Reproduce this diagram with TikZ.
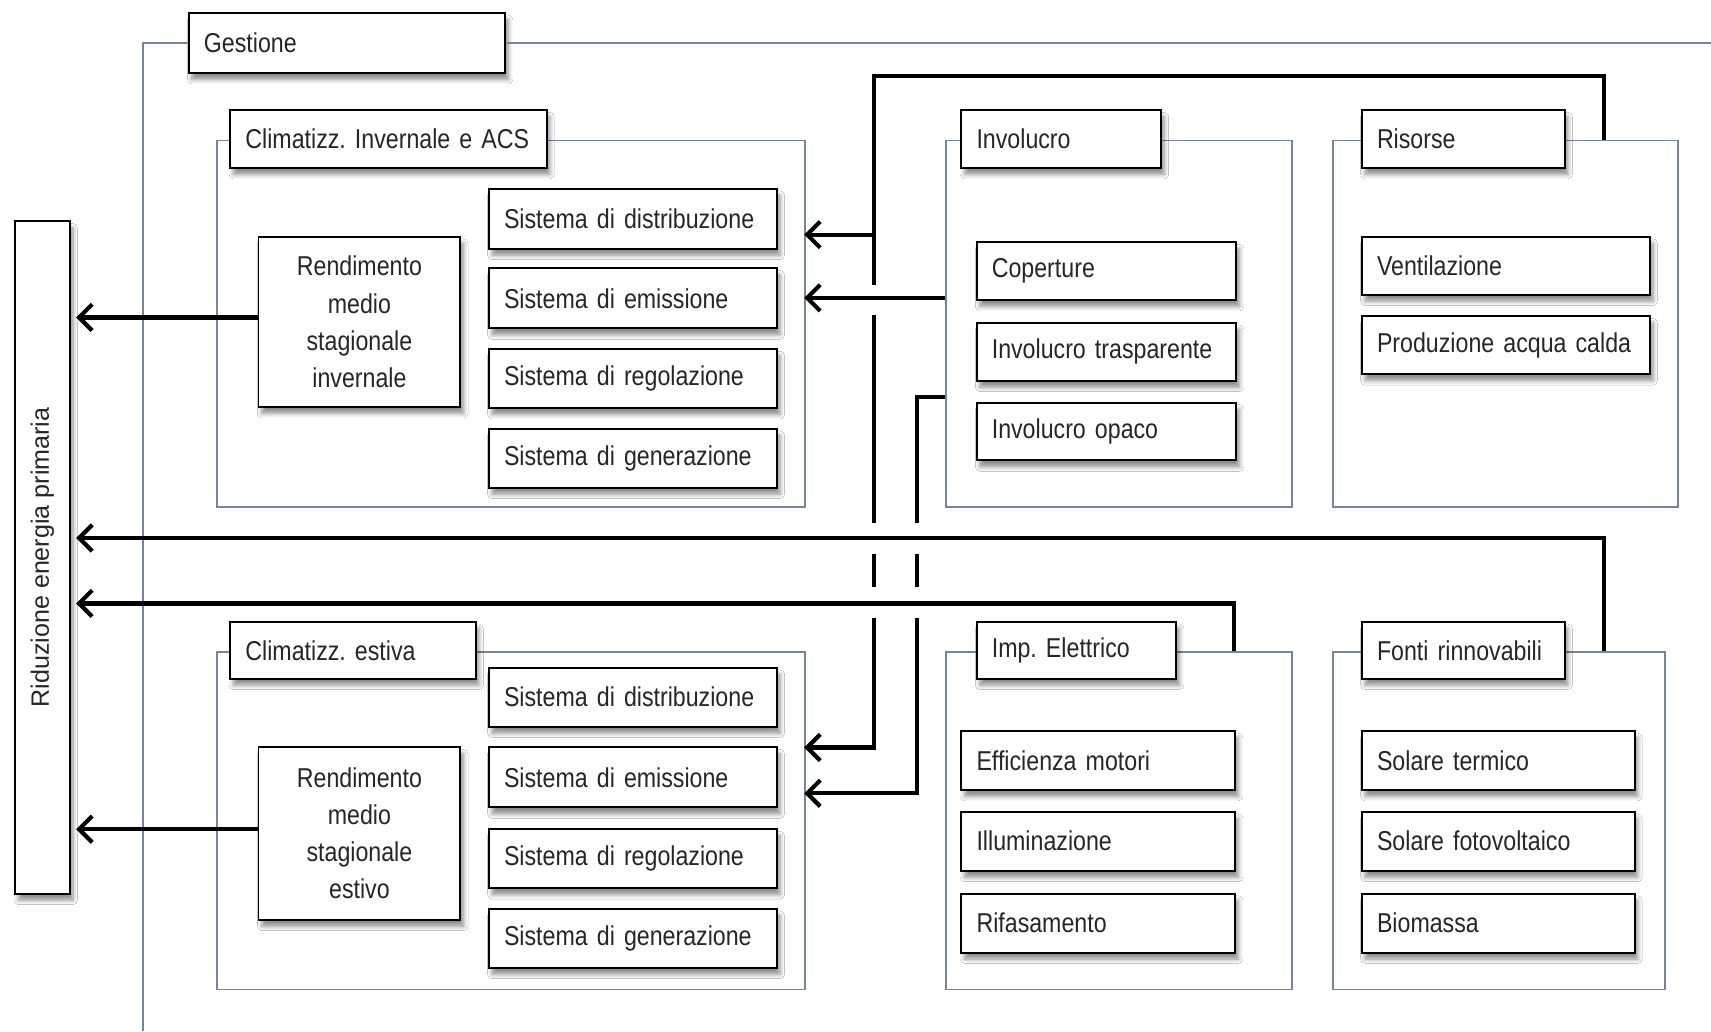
\documentclass[tikz,border=0pt]{standalone}
\usepackage{fontspec}
\setmainfont{Liberation Sans}
\newfontfamily\narrowfont[FakeStretch=0.85, WordSpace=0.6]{Liberation Sans}
\usetikzlibrary{arrows.meta,shadows.blur}
\definecolor{framecol}{RGB}{118,132,156}
\newcommand\dgmfont{\narrowfont\fontsize{25}{34}\selectfont\frenchspacing}
\newcommand\ridfont{\fontsize{23}{28}\selectfont}
\tikzset{
  frame/.style={draw=framecol, line width=1.6pt, anchor=north west, inner sep=0pt},
  gline/.style={draw=framecol, line width=1.6pt},
  shad/.style={blur shadow={shadow xshift=3pt, shadow yshift=-6pt, shadow blur radius=4pt, shadow blur steps=6, shadow opacity=45}},
  lbl/.style={draw=black, line width=1.8pt, fill=white, anchor=north west, inner xsep=14pt, inner ysep=0pt, align=left, font=\dgmfont, text=black!85, shad},
  rend/.style={draw=black, line width=1.8pt, fill=white, anchor=north west, inner sep=0pt, align=center, font=\dgmfont, text=black!85, shad},
  link/.style={line width=3.8pt, draw=black},
  conn/.style={link, -{Straight Barb[length=12pt,width=24pt]}},
  connr/.style={conn, shorten >=5pt}
}
\begin{document}
\begin{tikzpicture}[x=1pt,y=-1pt]
\useasboundingbox[fill=white] (0,0) rectangle (1568,945);

% Gestione
\node[lbl, text width=262pt, minimum height=55pt] (gest) at (172,11) {Gestione};
\coordinate (gBot) at (131,945);
\coordinate (gRight) at (1568,0);
\draw[gline] (gest.west) -| (gBot);
\draw[gline] (gest.east) -- (gest.east -| gRight);

% Riduzione
\node[draw=black, line width=1.8pt, fill=white, anchor=north west, inner sep=0pt,
      minimum width=50pt, minimum height=616pt, font=\ridfont, text=black!85, shad] (rid) at (13,202)
      {\rotatebox{90}{Riduzione energia primaria}};

% Frames
\node[frame, minimum width=539pt, minimum height=336pt] (fCI) at (198,128) {};
\node[frame, minimum width=539pt, minimum height=309pt] (fCE) at (198,597) {};
\node[frame, minimum width=317pt, minimum height=336pt] (fInv) at (866,128) {};
\node[frame, minimum width=316pt, minimum height=336pt] (fRis) at (1221,128) {};
\node[frame, minimum width=317pt, minimum height=309pt] (fImp) at (866,597) {};
\node[frame, minimum width=304pt, minimum height=309pt] (fFon) at (1221,597) {};

% Climatizz. invernale
\node[lbl, text width=262pt, minimum height=53pt] (lCI) at (210,100) {Climatizz. Invernale e ACS};
\node[lbl, text width=236pt, minimum height=55pt] (sCI1) at (447,172) {Sistema di distribuzione};
\node[lbl, text width=236pt, minimum height=55pt] (sCI2) at (447,245) {Sistema di emissione};
\node[lbl, text width=236pt, minimum height=54pt] (sCI3) at (447,319) {Sistema di regolazione};
\node[lbl, text width=236pt, minimum height=54pt] (sCI4) at (447,392) {Sistema di generazione};
\node[rend, minimum width=185pt, minimum height=156pt] (rCI) at (236,216) {Rendimento\\medio\\stagionale\\invernale};

% Climatizz. estiva
\node[lbl, text width=197pt, minimum height=52pt] (lCE) at (210,569) {Climatizz. estiva};
\node[lbl, text width=236pt, minimum height=54pt] (sCE1) at (447,611) {Sistema di distribuzione};
\node[lbl, text width=236pt, minimum height=55pt] (sCE2) at (447,684) {Sistema di emissione};
\node[lbl, text width=236pt, minimum height=54pt] (sCE3) at (447,759) {Sistema di regolazione};
\node[lbl, text width=236pt, minimum height=54pt] (sCE4) at (447,832) {Sistema di generazione};
\node[rend, minimum width=185pt, minimum height=158pt] (rCE) at (236,684) {Rendimento\\medio\\stagionale\\estivo};

% Involucro
\node[lbl, text width=155pt, minimum height=53pt] (lInv) at (880,100) {Involucro};
\node[lbl, text width=210pt, minimum height=53pt] (inv1) at (894,221) {Coperture};
\node[lbl, text width=210pt, minimum height=53pt] (inv2) at (894,295) {Involucro trasparente};
\node[lbl, text width=210pt, minimum height=53pt] (inv3) at (894,368) {Involucro opaco};

% Risorse
\node[lbl, text width=158pt, minimum height=53pt] (lRis) at (1247,100) {Risorse};
\node[lbl, text width=236pt, minimum height=53pt] (ris1) at (1247,216) {Ventilazione};
\node[lbl, text width=236pt, minimum height=53pt] (ris2) at (1247,289) {Produzione acqua calda};

% Imp. Elettrico
\node[lbl, text width=155pt, minimum height=52pt] (lImp) at (894,569) {Imp. Elettrico};
\node[lbl, text width=223pt, minimum height=54pt] (imp1) at (880,669) {Efficienza motori};
\node[lbl, text width=223pt, minimum height=54pt] (imp2) at (880,743) {Illuminazione};
\node[lbl, text width=223pt, minimum height=54pt] (imp3) at (880,818) {Rifasamento};

% Fonti rinnovabili
\node[lbl, text width=158pt, minimum height=52pt] (lFon) at (1247,569) {Fonti rinnovabili};
\node[lbl, text width=222pt, minimum height=54pt] (fon1) at (1247,669) {Solare termico};
\node[lbl, text width=222pt, minimum height=54pt] (fon2) at (1247,743) {Solare fotovoltaico};
\node[lbl, text width=222pt, minimum height=54pt] (fon3) at (1247,818) {Biomassa};

% Connector coordinates
\coordinate (rA1) at (1470,70);
\coordinate (rA2) at (801,70);
\coordinate (rA3) at (801,261);
\coordinate (rA4) at (801,289);
\coordinate (rA5) at (801,479);
\coordinate (rA6) at (801,508);
\coordinate (rA7) at (801,538);
\coordinate (rA8) at (801,566);
\coordinate (tCI1) at (737,215);
\coordinate (tCI2) at (737,273);
\coordinate (tCE2) at (737,685);
\coordinate (tCE3) at (737,727);
\coordinate (bB1) at (840,364);
\coordinate (bB2) at (840,479);
\coordinate (bB3) at (840,508);
\coordinate (bB4) at (840,538);
\coordinate (bB5) at (840,566);
\coordinate (cF) at (1470,493);
\coordinate (dI) at (1131,553);
\coordinate (eI) at ([yshift=4pt]rCI.west);
\coordinate (eE) at ([yshift=4pt]rCE.west);

% Risorse -> climatizzazione
\draw[link] (rA1 |- fRis.north) -- (rA1) -- (rA2) -- (rA3);
\draw[conn] (rA2 |- tCI1) -- (tCI1);
\draw[link] (rA4) -- (rA5);
\draw[link] (rA6) -- (rA7);
\draw[conn] (rA8) |- (tCE2);

% Involucro -> climatizzazione
\draw[conn] (fInv.west |- tCI2) -- (tCI2);
\draw[link] (fInv.west |- bB1) -- (bB1) -- (bB2);
\draw[link] (bB3) -- (bB4);
\draw[conn] (bB5) |- (tCE3);

% To Riduzione
\draw[connr] (cF |- fFon.north) -- (cF) -- (rid.east |- cF);
\draw[connr] (dI |- fImp.north) -- (dI) -- (rid.east |- dI);
\draw[connr] (eI) -- (rid.east |- eI);
\draw[connr] (eE) -- (rid.east |- eE);
\end{tikzpicture}
\end{document}
